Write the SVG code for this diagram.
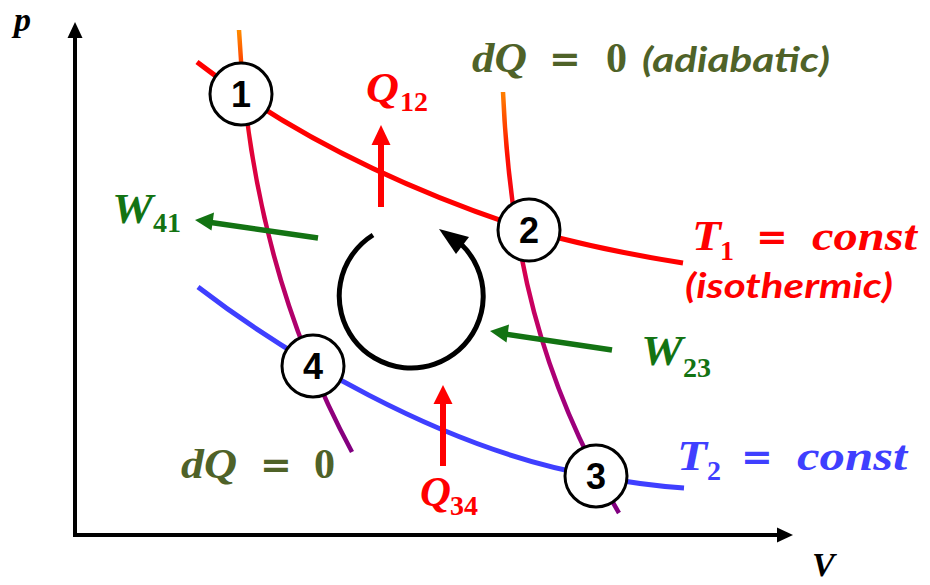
<svg xmlns="http://www.w3.org/2000/svg" width="930" height="585" viewBox="0 0 930 585">
<defs>
<style>
.m{font-family:"Liberation Serif","Times New Roman",serif;font-weight:bold;font-style:italic;font-size:42px}
.s{font-family:"Liberation Serif","Times New Roman",serif;font-weight:bold;font-size:28px}
.u{font-family:"Liberation Serif","Times New Roman",serif;font-weight:bold;font-size:42px}
.eq{font-family:"DejaVu Serif","Liberation Serif",serif;font-weight:bold;font-size:38px;text-anchor:middle}
.c{font-family:Lato,"Open Sans",sans-serif;font-weight:bold;font-style:italic;font-size:34px}
.n{font-family:"Liberation Sans",Arial,sans-serif;font-weight:bold;font-size:36px;text-anchor:middle;fill:#000}
.node{fill:#fff;stroke:#000;stroke-width:3}
.red{fill:#ff0000}.blue{fill:#3f3fff}.grn{fill:#137313}.olv{fill:#4f6228}
.curve{fill:none;stroke-width:5}
.adi{fill:none;stroke-width:4.5}
</style>
<linearGradient id="gL" gradientUnits="userSpaceOnUse" x1="0" y1="30" x2="0" y2="452">
<stop offset="0" stop-color="#ff8c00"/><stop offset="0.12" stop-color="#ff1a00"/><stop offset="0.3" stop-color="#e0003c"/><stop offset="0.55" stop-color="#c0005e"/><stop offset="0.8" stop-color="#a00078"/><stop offset="1" stop-color="#800080"/>
</linearGradient>
<linearGradient id="gR" gradientUnits="userSpaceOnUse" x1="0" y1="92" x2="0" y2="513">
<stop offset="0" stop-color="#ff8000"/><stop offset="0.15" stop-color="#ff1000"/><stop offset="0.3" stop-color="#f00020"/><stop offset="0.45" stop-color="#d00058"/><stop offset="0.7" stop-color="#a8007a"/><stop offset="1" stop-color="#800080"/>
</linearGradient>
</defs>
<rect width="930" height="585" fill="#fff"/>
<g id="axes">
<line x1="75" y1="537" x2="75" y2="36" stroke="#000" stroke-width="4"/>
<polygon points="75,22 67.5,38 82.5,38" fill="#000"/>
<line x1="73" y1="535" x2="779" y2="535" stroke="#000" stroke-width="4"/>
<polygon points="793,535 777,527.5 777,542.5" fill="#000"/>
<text class="m" x="14" y="31" style="font-size:34px">p</text>
<text class="m" x="812" y="576" style="font-size:34px">V</text>
</g>
<g id="connectors">
<path class="curve" stroke="#ff0000" d="M197,62 Q330,165 529,230 Q600,250 683,263"/>
<path class="curve" stroke="#3f3fff" d="M198,287 C280,350 440,450 596,476 Q640,485 684,488"/>
<path class="adi" stroke="url(#gL)" d="M239,30 C245,150 270,300 352,452"/>
<path class="adi" stroke="url(#gR)" d="M503,92 C510,250 540,380 619,513"/>
<line x1="381" y1="207" x2="381" y2="142" stroke="#ff0000" stroke-width="6"/>
<polygon points="381,125 371.5,145 390.5,145" fill="#ff0000"/>
<line x1="443" y1="466" x2="443" y2="401" stroke="#ff0000" stroke-width="6"/>
<polygon points="443,385 433.5,404 452.5,404" fill="#ff0000"/>
<line x1="318" y1="238" x2="211" y2="222.5" stroke="#137313" stroke-width="5.5"/>
<polygon points="195,220 214,212.5 211.5,230.5" fill="#137313"/>
<line x1="612" y1="350" x2="505" y2="334" stroke="#137313" stroke-width="5.5"/>
<polygon points="490,331 509,324.5 506.5,342.5" fill="#137313"/>
<path d="M373,235 A72 72 0 1 0 461,244" fill="none" stroke="#000" stroke-width="5"/>
<polygon points="439,229 469,237 456,254" fill="#000"/>
</g>
<g id="node1"><circle class="node" cx="241" cy="94" r="31"/><text class="n" x="241" y="107">1</text></g>
<g id="node2"><circle class="node" cx="529" cy="230" r="31"/><text class="n" x="529" y="243">2</text></g>
<g id="node3"><circle class="node" cx="596" cy="476" r="31"/><text class="n" x="596" y="489">3</text></g>
<g id="node4"><circle class="node" cx="313" cy="366" r="31"/><text class="n" x="313" y="379">4</text></g>
<g id="labels">
<text class="m red" x="366" y="102" textLength="33" lengthAdjust="spacingAndGlyphs">Q</text><text class="s red" x="400" y="111">12</text>
<text class="m olv" x="472" y="72" textLength="55" lengthAdjust="spacingAndGlyphs">dQ</text><text class="eq olv" x="565" y="72">=</text><text class="u olv" x="606" y="72">0</text>
<text class="c olv" x="642" y="72" textLength="188" lengthAdjust="spacingAndGlyphs">(adiabatic)</text>
<text class="m red" x="692" y="250" textLength="29" lengthAdjust="spacingAndGlyphs">T</text><text class="s red" x="720" y="260">1</text><text class="eq red" x="772" y="250">=</text><text class="m red" x="812" y="250" textLength="105" lengthAdjust="spacingAndGlyphs">const</text>
<text class="c red" x="685" y="298" textLength="208" lengthAdjust="spacingAndGlyphs">(isothermic)</text>
<text class="m grn" x="112" y="223" textLength="41" lengthAdjust="spacingAndGlyphs">W</text><text class="s grn" x="153" y="232">41</text>
<text class="m grn" x="641" y="365" textLength="42" lengthAdjust="spacingAndGlyphs">W</text><text class="s grn" x="683" y="377">23</text>
<text class="m red" x="420" y="506" textLength="31" lengthAdjust="spacingAndGlyphs">Q</text><text class="s red" x="450" y="515">34</text>
<text class="m olv" x="181" y="478" textLength="56" lengthAdjust="spacingAndGlyphs">dQ</text><text class="eq olv" x="276" y="478">=</text><text class="u olv" x="314" y="478">0</text>
<text class="m blue" x="677" y="470" textLength="30" lengthAdjust="spacingAndGlyphs">T</text><text class="s blue" x="707" y="480">2</text><text class="eq blue" x="757" y="470">=</text><text class="m blue" x="797" y="470" textLength="110" lengthAdjust="spacingAndGlyphs">const</text>
</g>
</svg>
